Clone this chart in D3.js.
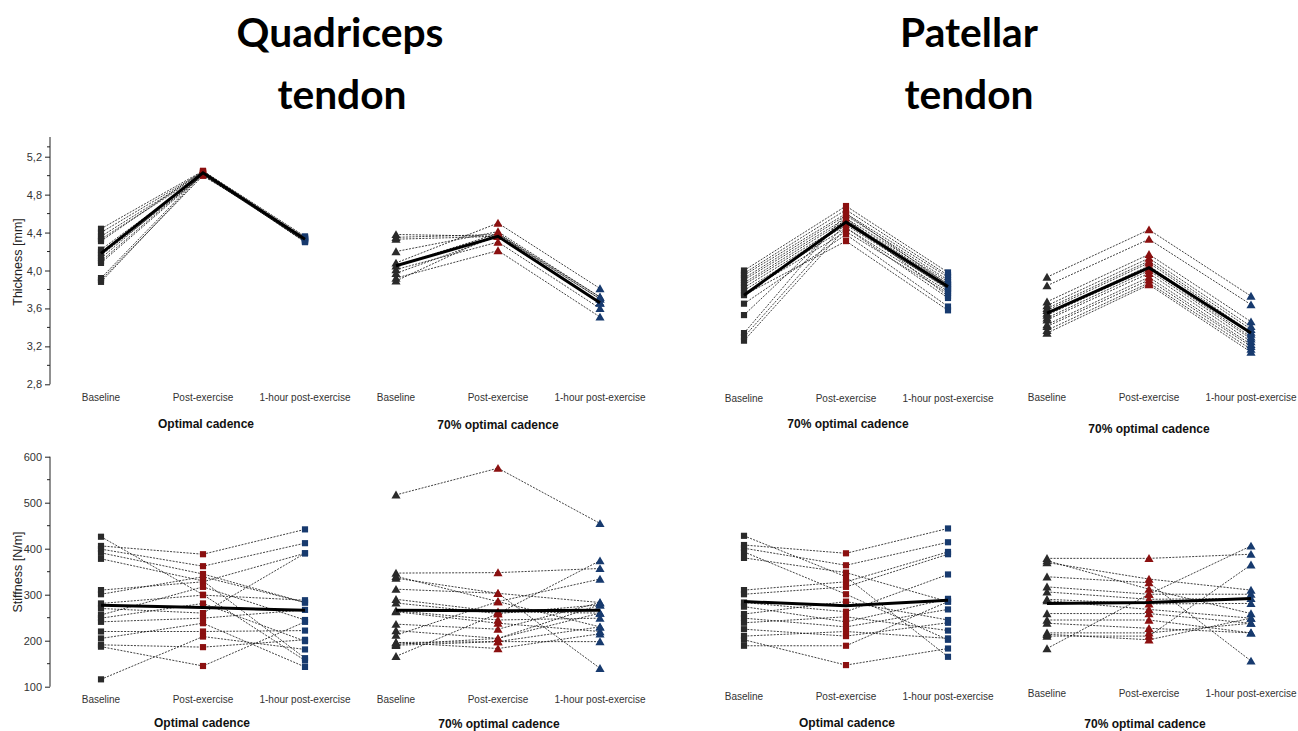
<!DOCTYPE html>
<html><head><meta charset="utf-8">
<script src="https://cdn.jsdelivr.net/npm/d3@7"></script>
<style>body{margin:0;background:#fff}svg{display:block}</style>
</head><body>
<svg id="c" width="1298" height="731"></svg>
<script>
// ---------- data ----------
const categories = ["Baseline", "Post-exercise", "1-hour post-exercise"];
const thicknessTicks = [2.8, 3.2, 3.6, 4.0, 4.4, 4.8, 5.2];
const stiffnessTicks = [100, 200, 300, 400, 500, 600];
const titles = ["Quadriceps", "tendon", "Patellar", "tendon"];
const subtitleOptimal = "Optimal cadence";
const subtitle70 = "70% optimal cadence";
const yTitleThickness = "Thickness [mm]";
const yTitleStiffness = "Stiffness [N/m]";

// Quadriceps, thickness, optimal cadence
const qThOptBase = [4.44, 4.40, 4.36, 4.33, 4.31, 4.22, 4.19, 4.16, 4.13, 4.10, 4.08, 3.92, 3.90, 3.88];
const qThOptPost = [5.05, 5.04, 5.03, 5.02, 5.05, 5.01, 5.03, 5.00, 5.04, 5.02, 5.01, 5.03, 5.00, 5.02];
const qThOpt1h   = [4.36, 4.35, 4.34, 4.33, 4.32, 4.31, 4.30, 4.35, 4.33, 4.32, 4.31, 4.30, 4.34, 4.33];
const qThOptMean = [4.18, 5.03, 4.33];
// Quadriceps, thickness, 70% optimal cadence
const qTh70Base = [4.38, 4.35, 4.33, 4.20, 4.08, 4.05, 4.01, 3.97, 3.92, 3.89];
const qTh70Post = [4.36, 4.38, 4.36, 4.41, 4.50, 4.39, 4.30, 4.36, 4.21, 4.39];
const qTh701h   = [3.66, 3.70, 3.66, 3.72, 3.81, 3.70, 3.60, 3.66, 3.51, 3.72];
const qTh70Mean = [4.05, 4.36, 3.66];
// Patellar, thickness, panel 3
const pThOptBase = [4.00, 3.97, 3.95, 3.92, 3.90, 3.87, 3.85, 3.82, 3.79, 3.76, 3.74, 3.65, 3.53, 3.34, 3.30, 3.26];
const pThOptPost = [4.68, 4.64, 4.60, 4.58, 4.55, 4.53, 4.50, 4.48, 4.45, 4.41, 4.31, 4.38, 4.55, 4.60, 4.50, 4.45];
const pThOpt1h   = [3.98, 3.95, 3.93, 3.90, 3.88, 3.86, 3.83, 3.81, 3.78, 3.76, 3.58, 3.62, 3.73, 3.85, 3.80, 3.71];
const pThOptMean = [3.74, 4.51, 3.83];
// Patellar, thickness, 70% optimal cadence
const pTh70Base = [3.93, 3.84, 3.67, 3.63, 3.60, 3.58, 3.55, 3.53, 3.50, 3.48, 3.43, 3.41, 3.37, 3.34];
const pTh70Post = [4.43, 4.33, 4.17, 4.13, 4.10, 4.08, 4.05, 4.02, 4.00, 3.97, 3.93, 3.90, 3.87, 3.85];
const pTh701h   = [3.73, 3.64, 3.46, 3.41, 3.38, 3.35, 3.33, 3.30, 3.28, 3.25, 3.22, 3.20, 3.17, 3.14];
const pTh70Mean = [3.55, 4.03, 3.34];

// Quadriceps, stiffness, optimal cadence
const qStOptBase = [426, 406, 399, 391, 378, 310, 301, 281, 270, 256, 249, 241, 220, 205, 191, 187, 116];
const qStOptPost = [300, 388, 362, 345, 330, 328, 339, 299, 260, 317, 281, 249, 220, 238, 186, 145, 209];
const qStOpt1h   = [157, 442, 412, 283, 162, 390, 283, 288, 390, 245, 199, 267, 222, 143, 202, 241, 181];
const qStOptMean = [277, 272, 266];
// Quadriceps, stiffness, 70% optimal cadence
const qSt70Base = [517, 347, 340, 336, 312, 290, 282, 265, 263, 236, 222, 212, 196, 192, 190, 166, 196];
const qSt70Post = [575, 348, 285, 303, 303, 263, 259, 245, 238, 225, 205, 285, 198, 205, 198, 259, 183];
const qSt701h   = [455, 357, 230, 140, 283, 260, 278, 249, 220, 283, 260, 334, 198, 278, 230, 374, 215];
const qSt70Mean = [266, 265, 266];
// Patellar, stiffness, optimal cadence
const pStOptBase = [428, 408, 401, 393, 380, 310, 301, 283, 274, 258, 249, 239, 225, 210, 202, 189];
const pStOptPost = [339, 390, 364, 301, 348, 328, 317, 263, 241, 285, 230, 252, 210, 220, 147, 189];
const pStOpt1h   = [165, 444, 414, 202, 285, 393, 388, 344, 291, 245, 268, 222, 239, 205, 183, 285];
const pStOptMean = [285, 276, 288];
// Patellar, stiffness, 70% optimal cadence
const pSt70Base = [379, 374, 370, 339, 317, 306, 290, 287, 259, 245, 238, 217, 214, 210, 183];
const pSt70Post = [379, 312, 334, 326, 301, 290, 280, 268, 259, 245, 227, 217, 202, 210, 301];
const pSt701h   = [388, 259, 310, 156, 301, 292, 281, 249, 238, 217, 217, 238, 249, 365, 406];
const pSt70Mean = [281, 283, 292];

// ---------- drawing ----------
const svg = d3.select("#c");
const colors = ["#2a2a2a", "#8b1010", "#173a6e"];
const FONT = "'Liberation Sans', Arial, sans-serif";

const yThick = d3.scaleLinear().domain([2.8, 5.2]).range([384.3, 156.7]);
const yStiff = d3.scaleLinear().domain([100, 600]).range([686.7, 456.7]);

const panels = [
  {x0: 101, x1: 305, y: yThick, base: qThOptBase, post: qThOptPost, h1: qThOpt1h, mean: qThOptMean, shape: "square", catY: 401, sub: subtitleOptimal, subX: 206, subY: 428},
  {x0: 396, x1: 600, y: yThick, base: qTh70Base, post: qTh70Post, h1: qTh701h, mean: qTh70Mean, shape: "triangle", catY: 401, sub: subtitle70, subX: 498, subY: 429},
  {x0: 744, x1: 948, y: yThick, base: pThOptBase, post: pThOptPost, h1: pThOpt1h, mean: pThOptMean, shape: "square", catY: 401.5, sub: subtitle70, subX: 848, subY: 427.5},
  {x0: 1047, x1: 1251, y: yThick, base: pTh70Base, post: pTh70Post, h1: pTh701h, mean: pTh70Mean, shape: "triangle", catY: 401, sub: subtitle70, subX: 1149, subY: 433},
  {x0: 101, x1: 305, y: yStiff, base: qStOptBase, post: qStOptPost, h1: qStOpt1h, mean: qStOptMean, shape: "square", catY: 703, sub: subtitleOptimal, subX: 202, subY: 727},
  {x0: 396, x1: 600, y: yStiff, base: qSt70Base, post: qSt70Post, h1: qSt701h, mean: qSt70Mean, shape: "triangle", catY: 702.5, sub: subtitle70, subX: 499, subY: 727.5},
  {x0: 744, x1: 948, y: yStiff, base: pStOptBase, post: pStOptPost, h1: pStOpt1h, mean: pStOptMean, shape: "square", catY: 700, sub: subtitleOptimal, subX: 847, subY: 726.5},
  {x0: 1047, x1: 1251, y: yStiff, base: pSt70Base, post: pSt70Post, h1: pSt701h, mean: pSt70Mean, shape: "triangle", catY: 697, sub: subtitle70, subX: 1145, subY: 727.5}
];

// y axes (only on the left column)
function yAxis(scale, ticks, fmt, top, title, titleY) {
  const minor = [];
  for (let i = 0; i < ticks.length - 1; i++) minor.push((ticks[i] + ticks[i + 1]) / 2);
  const g = svg.append("g").attr("transform", "translate(50,0)");
  const ax = d3.axisLeft(scale).tickValues(ticks).tickFormat(fmt).tickSize(5).tickPadding(3);
  g.call(ax);
  g.select(".domain").remove();
  g.append("line").attr("x1", 0).attr("x2", 0).attr("y1", top).attr("y2", scale(ticks[0]))
    .attr("stroke", "#222").attr("stroke-width", 1);
  g.selectAll(".tick line").attr("stroke", "#222");
  g.selectAll(".tick text").attr("font-family", FONT).attr("font-size", 11).attr("fill", "#333");
  const mt = minor.slice();
  if (top < scale(ticks[ticks.length - 1]) - 10) mt.push(scale.invert((top + scale(ticks[ticks.length - 1])) / 2));
  g.selectAll(".minor").data(mt).enter().append("line")
    .attr("x1", -3).attr("x2", 0).attr("y1", d => scale(d)).attr("y2", d => scale(d))
    .attr("stroke", "#222");
  svg.append("text").attr("transform", `translate(22,${titleY}) rotate(-90)`)
    .attr("text-anchor", "middle").attr("font-family", FONT).attr("font-size", 12.5).attr("fill", "#222")
    .text(title);
}
yAxis(yThick, thicknessTicks, d => d3.format(".1f")(d).replace(".", ","), 137, yTitleThickness, 262);
yAxis(yStiff, stiffnessTicks, d3.format("d"), 456.7, yTitleStiffness, 572);

const sym = {square: d3.symbol().type(d3.symbolSquare).size(38), triangle: d3.symbol().type(d3.symbolTriangle).size(36)};

panels.forEach(p => {
  const x = d3.scalePoint().domain(categories).range([p.x0, p.x1]);
  const g = svg.append("g");
  const subjects = p.base.map((b, i) => [b, p.post[i], p.h1[i]]);
  const line = d3.line().x((d, i) => x(categories[i])).y(d => p.y(d));
  g.selectAll(".ind").data(subjects).enter().append("path")
    .attr("d", line).attr("fill", "none").attr("stroke", "#111")
    .attr("stroke-width", 0.8).attr("stroke-dasharray", "2,1.3");
  // markers
  [p.base, p.post, p.h1].forEach((vals, ci) => {
    g.selectAll(null).data(vals).enter().append("path")
      .attr("d", sym[p.shape])
      .attr("transform", d => `translate(${x(categories[ci])},${p.y(d) + (p.shape === "triangle" ? 1 : 0)})`)
      .attr("fill", colors[ci]);
  });
  // mean line
  g.append("path").attr("d", line(p.mean)).attr("fill", "none")
    .attr("stroke", "#000").attr("stroke-width", 3);
  // category labels
  g.selectAll(".cat").data(categories).enter().append("text")
    .attr("x", d => x(d)).attr("y", p.catY).attr("text-anchor", "middle")
    .attr("font-family", FONT).attr("font-size", 10).attr("fill", "#333").text(d => d);
  g.append("text").attr("x", p.subX).attr("y", p.subY).attr("text-anchor", "middle")
    .attr("font-family", FONT).attr("font-size", 12).attr("font-weight", "bold").attr("fill", "#111")
    .text(p.sub);
});

// big titles
const tpos = [[340, 46.5], [342, 108.5], [969, 46.5], [969, 108.5]];
titles.forEach((t, i) => {
  svg.append("text").attr("class", "bigtitle").attr("x", tpos[i][0]).attr("y", tpos[i][1])
    .attr("text-anchor", "middle").attr("font-family", "Lato, 'Open Sans', sans-serif")
    .attr("font-weight", "bold").attr("font-size", 38).attr("fill", "#000").text(t);
});
// fit title size so "Quadriceps" spans its width in the picture
const q = svg.select(".bigtitle").node();
const w = q.getComputedTextLength();
const fs = 38 * 207 / w;
svg.selectAll(".bigtitle").attr("font-size", fs);
</script>
</body></html>
